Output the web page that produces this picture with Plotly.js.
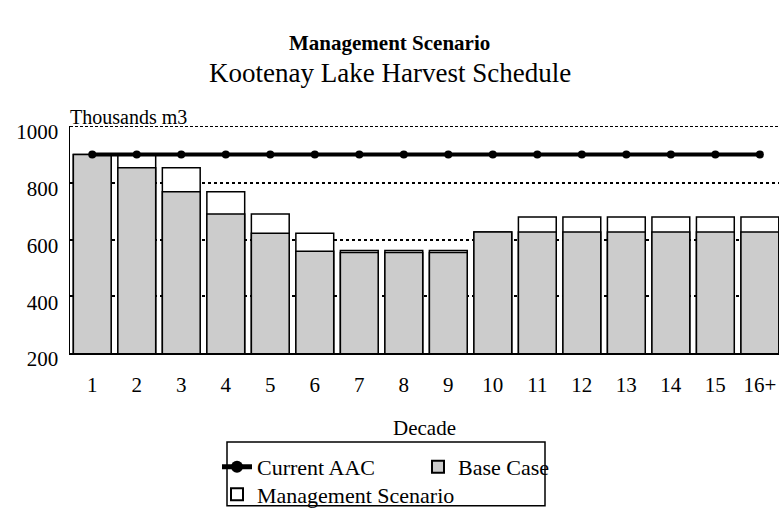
<!DOCTYPE html>
<html>
<head>
<meta charset="utf-8">
<script src="https://cdn.plot.ly/plotly-3.0.1.min.js"></script>
<style>html,body{margin:0;padding:0;background:#fff;}#chart{width:779px;height:516px;}</style>
</head>
<body>
<div id="chart"></div>
<script>
var decades = ["1","2","3","4","5","6","7","8","9","10","11","12","13","14","15","16+"];
var currentAAC = [900,900,900,900,900,900,900,900,900,900,900,900,900,900,900,900];
var baseCase = [900,853,768,690,622,559,554,554,554,626,626,626,626,626,626,626];
var managementScenario = [900,900,853,768,690,622,561,561,561,626,679,679,679,679,679,679];
var yTicks = [200,400,600,800,1000];
var titleText = "Management Scenario";
var subtitleText = "Kootenay Lake Harvest Schedule";

var FONT = "Liberation Serif";
var L = 70, R = 779, T = 126, B = 358;
var plotW = R - L, plotH = B - T;
function px2x(p){ return (p - L) / plotW; }
function px2y(p){ return (B - p) / plotH; }

var traces = [
  {
    type: "bar", name: "Management Scenario", x: decades, y: managementScenario,
    marker: {color: "#ffffff", line: {color: "#000000", width: 1.5}},
    legend: "legend3", hoverinfo: "skip"
  },
  {
    type: "bar", name: "Base Case", x: decades, y: baseCase,
    marker: {color: "#cccccc", line: {color: "#000000", width: 1.5}},
    legend: "legend2", hoverinfo: "skip"
  },
  {
    type: "scatter", mode: "lines+markers", name: "Current AAC", x: decades, y: currentAAC,
    line: {color: "#000000", width: 4},
    marker: {color: "#000000", size: 8},
    legend: "legend", hoverinfo: "skip"
  }
];

function legendBox(xpx, ypx){
  return {
    orientation: "v", x: px2x(xpx), xanchor: "left", y: px2y(ypx), yanchor: "top",
    bgcolor: "rgba(0,0,0,0)", borderwidth: 0,
    font: {family: FONT, size: 22, color: "#000000"},
    itemsizing: "constant"
  };
}

var layout = {
  width: 779, height: 516,
  margin: {l: L, r: 779 - R, t: T, b: 516 - B, pad: 0},
  paper_bgcolor: "#ffffff", plot_bgcolor: "#ffffff",
  font: {family: FONT, size: 22, color: "#000000"},
  barmode: "overlay", bargap: 0.15,
  showlegend: true,
  xaxis: {
    type: "category", range: [-0.5, 15.43], fixedrange: true,
    showline: true, linecolor: "#000000", linewidth: 1.5,
    showgrid: false, ticks: "", zeroline: false,
    tickfont: {family: FONT, size: 21, color: "#000000"},
    ticklabelstandoff: 12,
    title: {text: "Decade", font: {family: FONT, size: 21, color: "#000000"}, standoff: 24}
  },
  yaxis: {
    range: [200, 1000], fixedrange: true, tickvals: yTicks, ticktext: yTicks.map(String),
    showline: true, linecolor: "#000000", linewidth: 1.5,
    showgrid: true, gridcolor: "#000000", gridwidth: 2, griddash: "3px,3px",
    ticks: "inside", ticklen: 4, tickwidth: 1.5, tickcolor: "#000000",
    zeroline: false,
    tickfont: {family: FONT, size: 21, color: "#000000"},
    ticklabelstandoff: 6, ticklabelshift: 6
  },
  legend: legendBox(217, 453),
  legend2: legendBox(418, 453),
  legend3: legendBox(217, 481),
  annotations: [
    {text: "<b>" + titleText + "</b>", xref: "paper", yref: "paper", x: px2x(389.5), y: px2y(41),
     xanchor: "center", yanchor: "middle", showarrow: false, borderpad: 0,
     font: {family: FONT, size: 21, color: "#000000"}},
    {text: subtitleText, xref: "paper", yref: "paper", x: px2x(389.5), y: px2y(72),
     xanchor: "center", yanchor: "middle", showarrow: false, borderpad: 0,
     font: {family: FONT, size: 27, color: "#000000"}},
    {text: "Thousands m3", xref: "paper", yref: "paper", x: 0, y: 1, xanchor: "left", yanchor: "bottom",
     showarrow: false, font: {family: FONT, size: 20, color: "#000000"}, yshift: -4, xshift: -2}
  ],
  shapes: [
    {type: "line", xref: "paper", yref: "y", x0: 0, x1: 1, y0: 1000, y1: 1000,
     line: {color: "#000000", width: 2, dash: "3px,2px"}, layer: "below"},
    {type: "rect", xref: "paper", yref: "paper", x0: px2x(227), x1: px2x(545), y0: px2y(449), y1: px2y(514),
     line: {color: "#000000", width: 1.5}, fillcolor: "rgba(0,0,0,0)", layer: "above"}
  ]
};

Plotly.newPlot("chart", traces, layout, {staticPlot: true, displayModeBar: false});
</script>
</body>
</html>
